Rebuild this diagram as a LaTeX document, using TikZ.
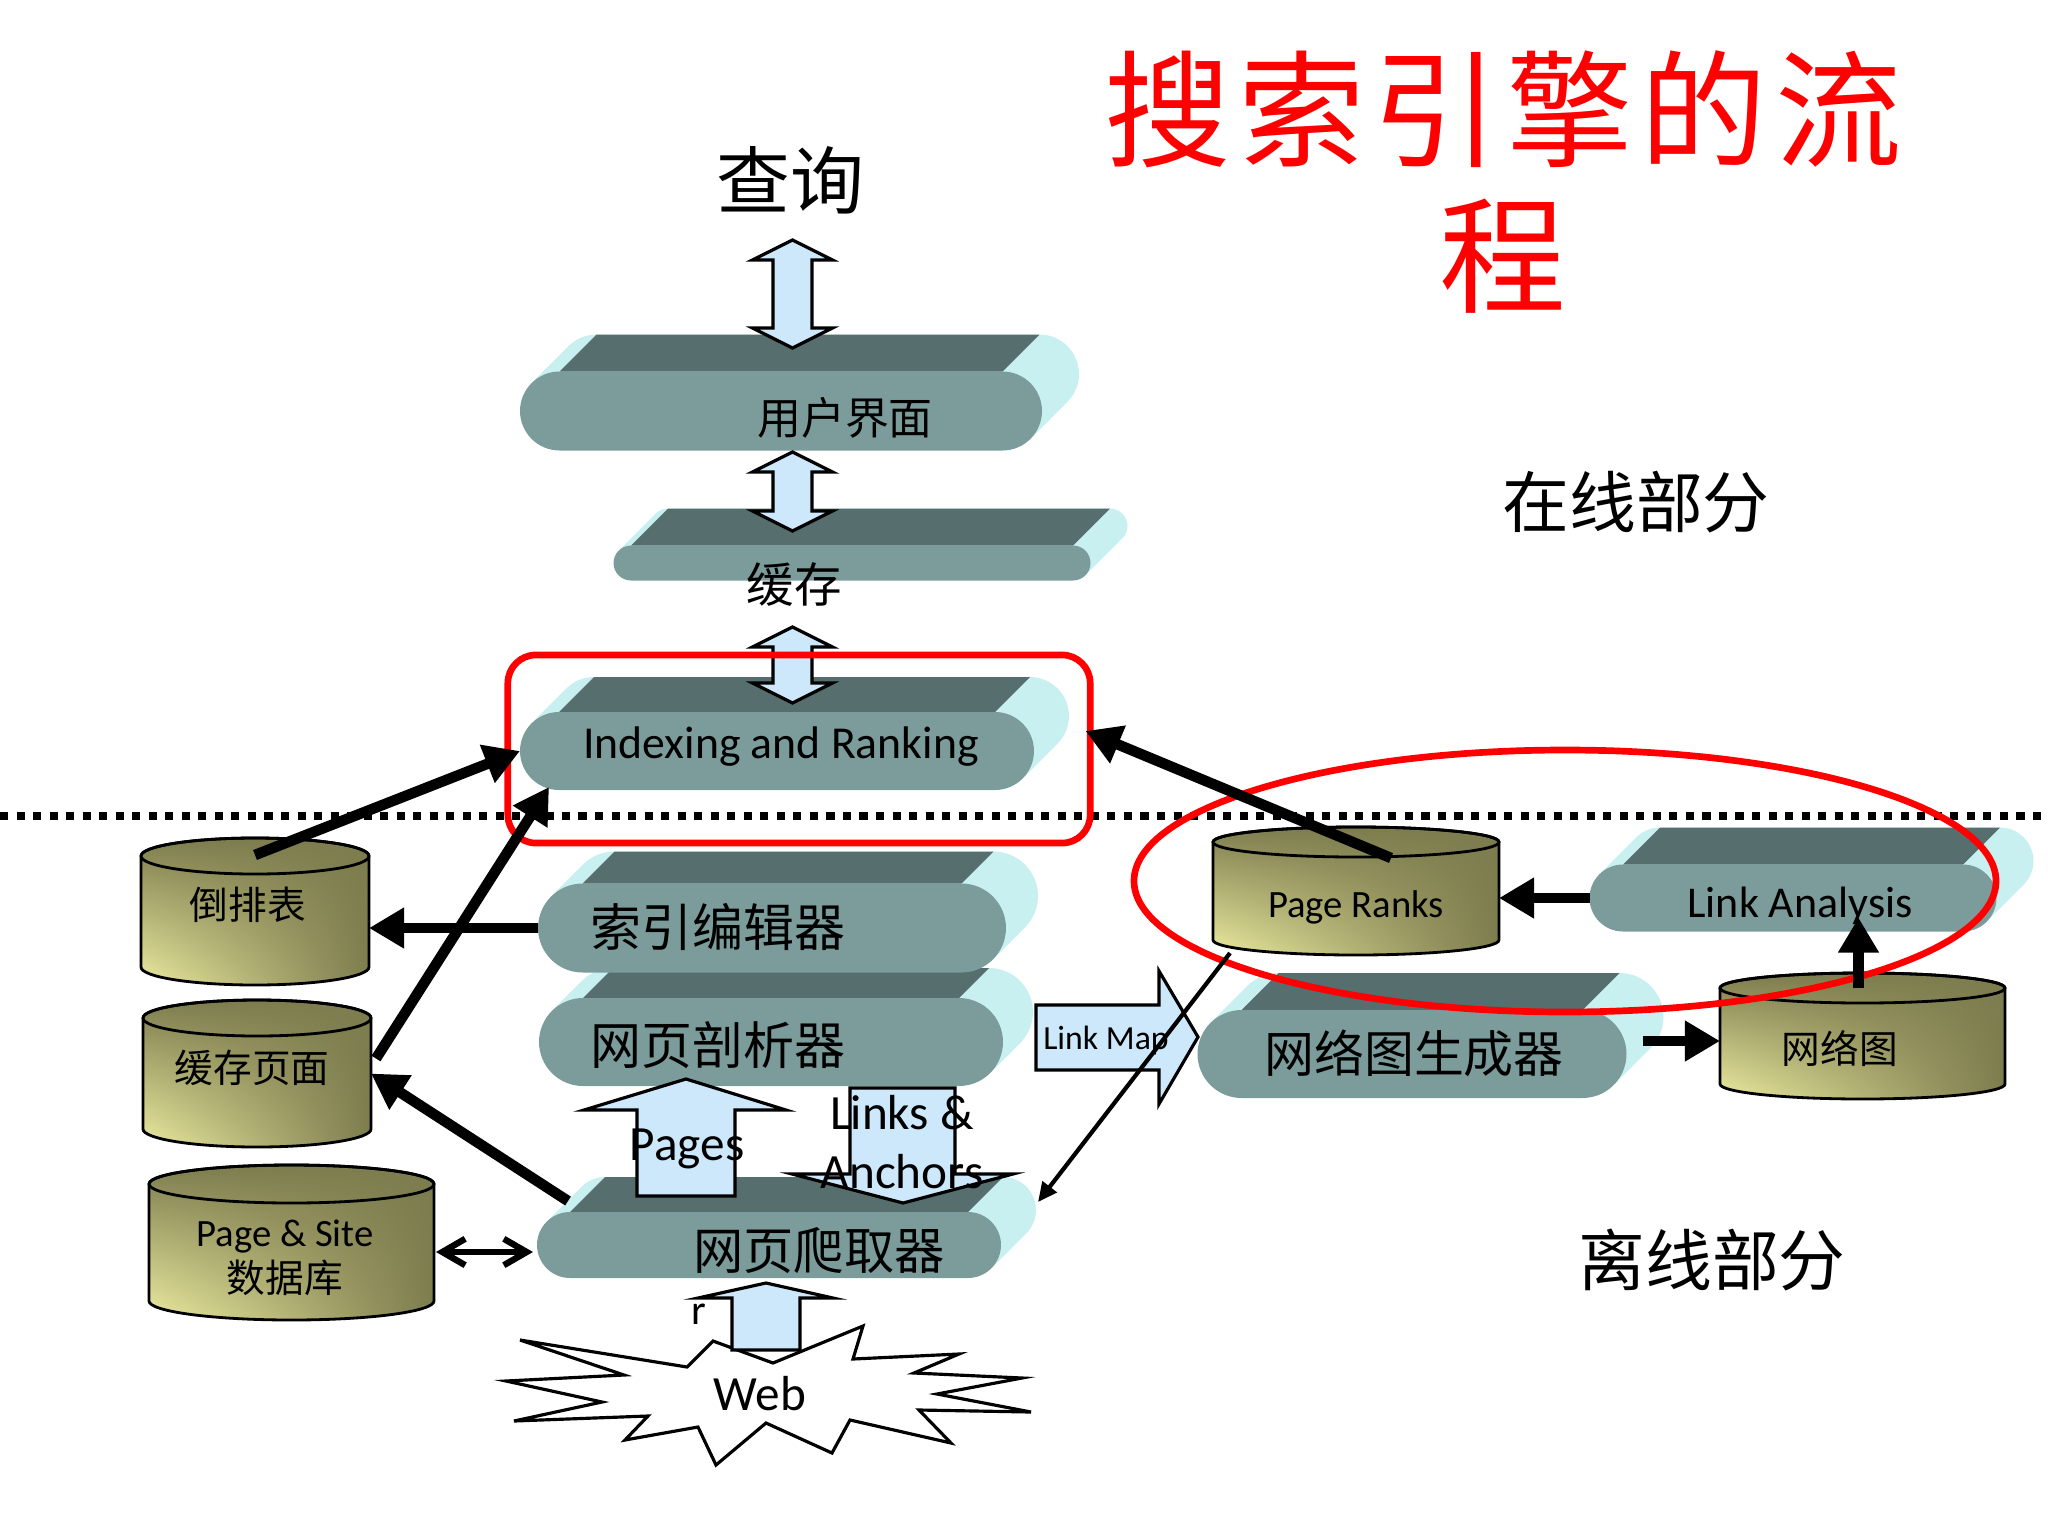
\documentclass[tikz,border=0pt]{standalone}
\usepackage{fontspec}
\setmainfont{Carlito}
\newfontfamily\cjk{Noto Sans CJK SC}
\newfontfamily\titlecjk[LetterSpace=6]{Noto Sans CJK SC}
\usetikzlibrary{arrows.meta,calc,shadings}

\definecolor{pillface}{RGB}{124,156,156}
\definecolor{slabdark}{RGB}{86,110,110}
\definecolor{bevelcyan}{RGB}{200,240,240}
\definecolor{arrowblue}{RGB}{204,232,250}
\definecolor{dbolive}{RGB}{125,124,78}
\definecolor{dblite}{RGB}{236,236,160}
\definecolor{hlred}{RGB}{255,0,0}

\newcommand\fsz[1]{\fontsize{#1}{#1}\selectfont}

\tikzset{
  sepline/.style={line width=2.3pt, dash pattern=on 2.3pt off 2.4pt},
  bevel/.style={fill=bevelcyan},
  slabtop/.style={fill=slabdark},
  pill/.style={fill=pillface, inner sep=0pt, outer sep=0pt},
  dbbody/.style={draw=black, line width=0.8pt, upper left=dbolive, upper right=dbolive, lower left=dblite, lower right=dbolive},
  dbline/.style={draw=black, line width=0.8pt},
  dbnode/.style={inner sep=0pt, outer sep=0pt},
  lbl/.style={inner sep=0pt, outer sep=0pt},
  blockarr/.style={fill=arrowblue, draw=black, line width=0.9pt, line join=miter},
  webstar/.style={draw=black, fill=white, line width=0.9pt, line join=miter},
  hlbox/.style={draw=hlred, line width=1.9pt, rounded corners=8pt, inner sep=0pt},
  hlring/.style={draw=hlred, line width=1.9pt},
  bigarr/.style={line width=3pt, -{Triangle[length=10pt,width=11pt]}},
  thinarr/.style={line width=1.2pt, -{Triangle[length=5.5pt,width=5pt]}},
  dblarr/.style={line width=1.8pt, {Straight Barb[length=6.5pt,width=7.5pt]}-{Straight Barb[length=6.5pt,width=7.5pt]}},
}

% pill with a 3-D top: name, centre x, centre y, width, height, depth (px)
\newcommand\slab[6]{%
  \foreach \s in {1,0.9,...,0.05}
    \fill[bevel, rounded corners=#5*0.005cm]
      ({#2-#4/2+\s*#6},{#3-#5/2-\s*#6}) rectangle ++(#4,#5);
  \fill[slabtop] ({#2-#4/2+#5/2},{#3-#5/2}) -- ++(#4-#5,0) -- ++(#6,-#6) -- ++(#5-#4,0) -- cycle;
  \node[pill, minimum width=#4*0.01cm, minimum height=#5*0.01cm, rounded corners=#5*0.005cm] (#1) at (#2,#3) {};
}

% database drum: name, left, top, right, bottom, ry (px)
\newcommand\dbcyl[6]{%
  \shade[dbbody] (#2,#3+#6) -- (#2,#5-#6)
    arc[start angle=180, end angle=0, x radius={(#4-#2)/2}, y radius=#6] -- (#4,#3+#6)
    arc[start angle=0, end angle=-180, x radius={(#4-#2)/2}, y radius=#6] -- cycle;
  \draw[dbline] ({(#2+#4)/2},#3+#6) ellipse[x radius={(#4-#2)/2}, y radius=#6];
  \node[dbnode, minimum width={(#4-#2)*0.01cm}, minimum height={(#5-#3)*0.01cm}] (#1) at ({(#2+#4)/2},{(#3+#5)/2}) {};
}

% up/down block arrow: centre x, top tip, bottom tip
\newcommand\dblv[3]{%
  \draw[blockarr] (#1,#2) -- (#1+40,#2+20) -- (#1+19.5,#2+20) -- (#1+19.5,#3-20) -- (#1+40,#3-20)
    -- (#1,#3) -- (#1-40,#3-20) -- (#1-19.5,#3-20) -- (#1-19.5,#2+20) -- (#1-40,#2+20) -- cycle;
}

\begin{document}
\begin{tikzpicture}[x=0.01cm, y=-0.01cm]
    \useasboundingbox (0,0) rectangle (2048,1536);

    % online / offline
    \draw[sepline] (0,816) -- (2048,816);

    % processing stages
    \slab{crawl}{769}{1245}{464}{66}{35}
    \slab{parse}{771}{1042}{464}{88}{30}
    \slab{idxed}{772}{928}{468}{89}{32}
    \slab{idx}{777}{751}{514}{78}{35}
    \slab{cache}{852}{563}{477}{35}{37}
    \slab{ui}{781}{411}{522}{79}{37}
    \slab{graphgen}{1412}{1054}{429}{88}{37}
    \slab{linkan}{1793}{898}{407}{67}{37}

    % stores
    \dbcyl{invidx}{141}{838}{369}{985}{18}
    \dbcyl{cachepg}{143}{1000}{371}{1147}{18}
    \dbcyl{pagedb}{149}{1165}{434}{1320}{19}
    \dbcyl{pagerank}{1213}{827}{1499}{955}{15}
    \dbcyl{netgraph}{1720}{973}{2005}{1099}{15}

    % the web
    \draw[webstar] (713,1341) -- (773,1363) -- (863,1326) -- (853,1359) -- (959,1354) -- (914,1373)
      -- (1022,1378) -- (937,1394) -- (1031,1412) -- (919,1410) -- (951,1443) -- (850,1420)
      -- (832,1453) -- (766,1423) -- (716,1465) -- (698,1427) -- (625,1440) -- (648,1416)
      -- (514,1421) -- (602,1402) -- (506,1381) -- (624,1375) -- (520,1340) -- (687,1367) -- cycle;

    % block arrows
    \dblv{792.5}{240}{348}
    \dblv{792.5}{452}{531}
    \dblv{792.5}{627}{703}
    \draw[blockarr] (686,1079) -- (786,1110) -- (735,1110) -- (735,1196) -- (637,1196) -- (637,1110) -- (584,1110) -- cycle;
    \draw[blockarr] (903,1203) -- (1013,1174) -- (955,1174) -- (955,1088) -- (850,1088) -- (850,1174) -- (792,1174) -- cycle;
    \draw[blockarr] (1198,1037) -- (1159,1104) -- (1159,1070) -- (1036,1070) -- (1036,1005) -- (1159,1005) -- (1159,971) -- cycle;
    \draw[blockarr] (766,1283) -- (833,1298) -- (800,1298) -- (800,1350) -- (732,1350) -- (732,1298) -- (698,1298) -- cycle;

    % titles
    \node[lbl, align=center, text=hlred, font=\titlecjk\fontsize{36}{41.3}\selectfont] (title) at (1503,182) {搜索引擎的流\\程};
    \node[lbl, font=\cjk\fsz{21}] (query) at (790,180) {查询};
    \node[lbl, font=\cjk\fsz{19}] (online) at (1636,502) {在线部分};
    \node[lbl, font=\cjk\fsz{19}] (offline) at (1712,1260) {离线部分};

    % labels
    \node[lbl, font=\cjk\fsz{12.5}] (ui-t) at (845,418) {用户界面};
    \node[lbl, font=\cjk\fsz{13.5}] (cache-t) at (794,585) {缓存};
    \node[lbl, font=\fsz{13}] (idx-t) at (781,747) {Indexing and Ranking};
    \node[lbl, font=\cjk\fsz{14.5}] (idxed-t) at (718,927) {索引编辑器};
    \node[lbl, font=\cjk\fsz{14.5}] (parse-t) at (718,1045) {网页剖析器};
    \node[lbl, font=\cjk\fsz{14.3}] (crawl-t) at (819,1251) {网页爬取器};
    \node[lbl, font=\cjk\fsz{14.2}] (graphgen-t) at (1414,1053) {网络图生成器};
    \node[lbl, font=\fsz{12.5}] (linkan-t) at (1800,906) {Link Analysis};
    \node[lbl, font=\cjk\fsz{11}] (invidx-t) at (248,905) {倒排表};
    \node[lbl, font=\cjk\fsz{11}] (cachepg-t) at (252,1068) {缓存页面};
    \node[lbl, align=center, font=\fontsize{11}{13}\selectfont] (pagedb-t) at (285,1258) {Page \& Site\\{\cjk 数据库}};
    \node[lbl, font=\fsz{11}] (pagerank-t) at (1356,907) {Page Ranks};
    \node[lbl, font=\cjk\fsz{11}] (netgraph-t) at (1840,1049) {网络图};
    \node[lbl, font=\fsz{14}] (pages-t) at (687,1149) {Pages};
    \node[lbl, align=center, font=\fontsize{14}{17}\selectfont] (links-t) at (902,1142) {Links \&\\Anchors};
    \node[lbl, font=\fsz{9.6}] (linkmap-t) at (1106,1040) {Link Map};
    \node[lbl, font=\fsz{14}] (web) at (760,1394) {Web};
    \node[lbl, font=\fsz{12}] (r-t) at (699,1314) {r};

    % highlights
    \node[hlbox, minimum width=5.82cm, minimum height=1.88cm] (idxbox) at (799,749) {};
    \draw[hlring] (1565,881) ellipse[x radius=431, y radius=131];

    % data flow
    \draw[bigarr] ($(invidx.north)+(0,17)$) -- (idx.west);
    \draw[bigarr] ($(cachepg.east)+(5,-15)$) -- ($(idx.west)+(29,36)$);
    \draw[bigarr] (idxed.west) -- (idxed.west -| invidx.east);
    \draw[bigarr] ($(crawl.west)+(31,-44)$) -- (cachepg.east);
    \draw[bigarr] ($(pagerank.north)+(35,31)$) -- ($(idxbox.east)+(-8,-18)$);
    \draw[bigarr] (linkan.west) -- (linkan.west -| pagerank.east);
    \draw[bigarr] ($(netgraph.north)+(-4,15)$) -- ($(netgraph.north |- linkan.south)+(-4,-14)$);
    \draw[bigarr] ($(graphgen.east)+(16,-13)$) -- ($(netgraph.west)+(0,5)$);
    \draw[thinarr] ($(pagerank.south west)+(17,-2)$) -- ($(crawl.east)+(37,-43)$);
    \draw[dblarr] ($(crawl.west -| pagedb.east)+(2,7)$) -- ($(crawl.west)+(-4,7)$);
\end{tikzpicture}
\end{document}
